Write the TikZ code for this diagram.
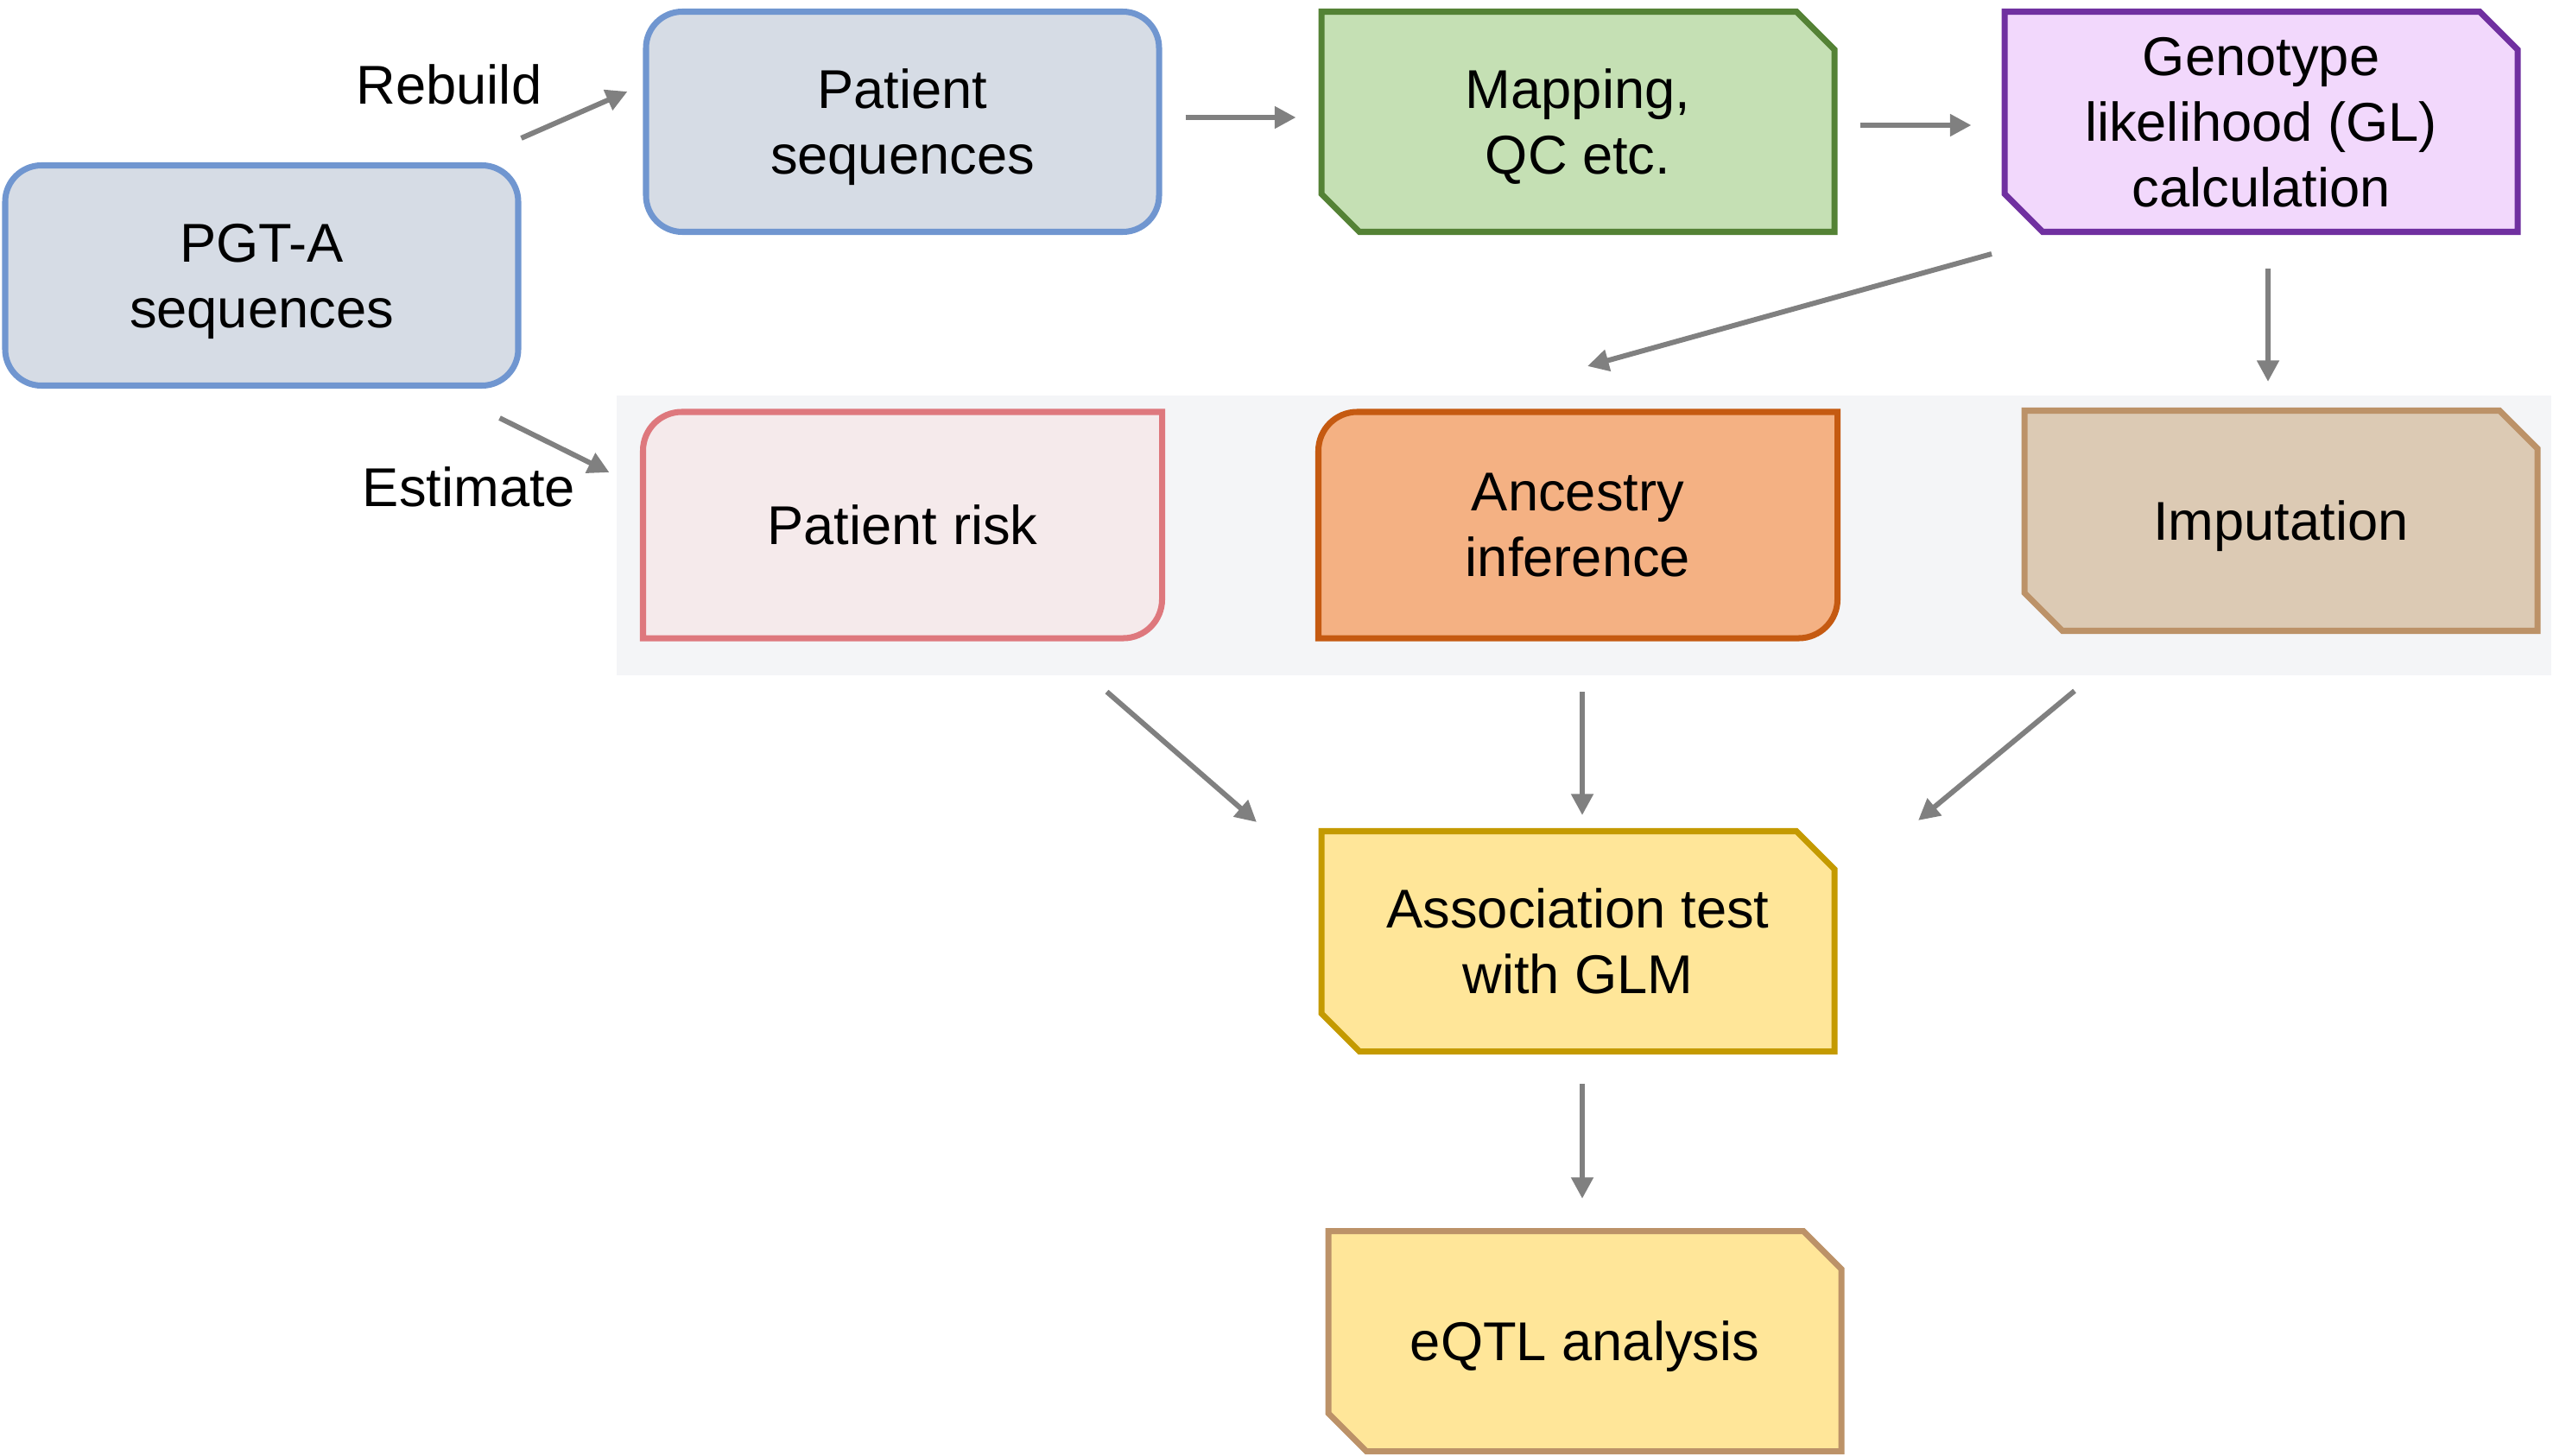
\documentclass[tikz,border=0pt]{standalone}
\usepackage{fontspec}
\setmainfont{Liberation Sans}
\usetikzlibrary{arrows.meta,shapes.misc,calc,backgrounds}

\definecolor{seqfill}{HTML}{D6DCE5}
\definecolor{seqline}{HTML}{7096D0}
\definecolor{mapfill}{HTML}{C5E0B4}
\definecolor{mapline}{HTML}{548235}
\definecolor{glfill}{HTML}{F2D8FC}
\definecolor{glline}{HTML}{7030A0}
\definecolor{riskfill}{HTML}{F5EAEB}
\definecolor{riskline}{HTML}{DE787D}
\definecolor{ancfill}{HTML}{F4B183}
\definecolor{ancline}{HTML}{C55A11}
\definecolor{impfill}{HTML}{DCCAB4}
\definecolor{impline}{HTML}{BC9268}
\definecolor{assocfill}{HTML}{FFE699}
\definecolor{assocline}{HTML}{C49A00}
\definecolor{eqtlline}{HTML}{BC9268}
\definecolor{bandgray}{HTML}{F4F5F7}
\definecolor{arrowgray}{HTML}{808080}

\begin{document}
\begin{tikzpicture}[>={Triangle[length=7pt,width=7pt]}, node distance=7.82cm,
    every node/.style={font=\fontsize{18}{21.6}\selectfont, align=center},
    box/.style={minimum width=5.94cm, minimum height=2.55cm, inner sep=0pt, text depth=0pt, line width=2pt},
    seqbox/.style={box, rectangle, rounded corners=0.42cm, draw=seqline, fill=seqfill},
    snipbox/.style={box, chamfered rectangle, chamfered rectangle corners={north east,south west}, chamfered rectangle sep=0.22cm},
    roundbox/.style={box, rectangle},
    diag/.style={line width=2pt},
    arr/.style={->, color=arrowgray, line width=1.7pt},
    lbl/.style={inner sep=0pt}]
    \useasboundingbox (0,0) rectangle (29.56,-16.86);

    % Nodes {pgt, ps, map, gen, risk, anc, imp, assoc, eqtl}
    \node [seqbox]                              (pgt)   at (3.03,-3.19)                        {PGT-A\\sequences};
    \node [seqbox]                              (ps)    at (10.45,-1.41)                       {Patient\\sequences};
    \node [snipbox, draw=mapline, fill=mapfill]     (map)   [right of=ps]                          {Mapping,\\QC etc.};
    \node [snipbox, draw=glline, fill=glfill]       (gen)   [node distance=7.91cm, right of=map]   {Genotype\\likelihood (GL)\\calculation};
    \node [roundbox]                            (risk)  [node distance=4.67cm, below of=ps]    {Patient risk};
    \node [roundbox]                            (anc)   [right of=risk]                        {Ancestry\\inference};
    \node [snipbox, draw=impline, fill=impfill]     (imp)   at (26.41,-6.03)                       {Imputation};
    \node [snipbox, draw=assocline, fill=assocfill] (assoc) [node distance=4.82cm, below of=anc]   {Association test\\with GLM};
    \node [snipbox, draw=eqtlline, fill=assocfill]  (eqtl)  [node distance=4.63cm, below of=assoc, xshift=0.08cm] {eQTL analysis};

    % Labels
    \node [lbl] (rebuild)  at (5.20,-0.98) {Rebuild};
    \node [lbl] (estimate) at (5.43,-5.64) {Estimate};

    % Band and round-diagonal outlines
    \begin{scope}[on background layer]
        \fill [bandgray] (7.14,-4.58) rectangle (29.54,-7.82);
        \draw [diag, draw=riskline, fill=riskfill] (risk.south west) -- ([yshift=-0.45cm]risk.north west)
            arc [start angle=180, end angle=90, radius=0.45cm] -- (risk.north east)
            -- ([yshift=0.45cm]risk.south east) arc [start angle=0, end angle=-90, radius=0.45cm] -- cycle;
        \draw [diag, draw=ancline, fill=ancfill] (anc.south west) -- ([yshift=-0.45cm]anc.north west)
            arc [start angle=180, end angle=90, radius=0.45cm] -- (anc.north east)
            -- ([yshift=0.45cm]anc.south east) arc [start angle=0, end angle=-90, radius=0.45cm] -- cycle;
    \end{scope}

    % Paths
    \path [arr] ($(pgt.north east)+(0,0.28)$)    edge                                    ($(ps.west)+(-0.18,0.35)$);
    \path [arr] ($(pgt.south east)+(-0.25,-0.34)$) edge                                  ($(risk.west)+(-0.39,0.61)$);
    \path [arr] ($(ps.east)+(0,0.05)$)  edge [shorten <=0.27cm, shorten >=0.26cm]        ($(map.west)+(0,0.05)$);
    \path [arr] ($(map.east)+(0,-0.04)$) edge [shorten <=0.26cm, shorten >=0.35cm]       ($(gen.west)+(0,-0.04)$);
    \path [arr] ($(gen.south)+(-3.12,-0.22)$)   edge                                     ($(anc.north)+(0.11,0.53)$);
    \path [arr] ($(gen.south)+(0.08,-0.39)$)    edge                                     ($(imp.north)+(-0.15,0.30)$);
    \path [arr] ($(risk.south east)+(-0.64,-0.62)$) edge                                 ($(assoc.north)+(-3.72,0.07)$);
    \path [arr] ($(anc.south)+(0.05,0)$) edge [shorten <=0.62cm, shorten >=0.15cm]       ($(assoc.north)+(0.05,0)$);
    \path [arr] ($(imp.south)+(-2.39,-0.66)$)   edge                                     ($(assoc.north)+(3.94,0.09)$);
    \path [arr] ($(assoc.south)+(0.05,0)$) edge [shorten <=0.34cm, shorten >=0.34cm]     ($(eqtl.north)+(-0.03,0)$);

\end{tikzpicture}
\end{document}
